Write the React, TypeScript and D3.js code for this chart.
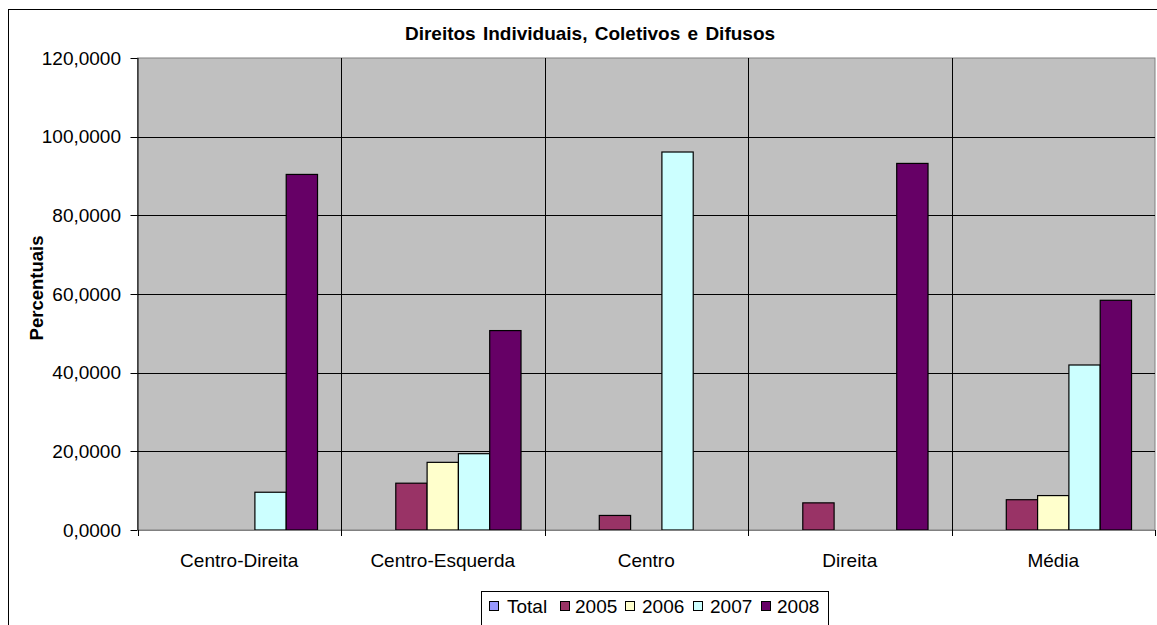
import React from "react";
import * as d3 from "d3";

const categories = ["Centro-Direita", "Centro-Esquerda", "Centro", "Direita", "Média"];
const seriesNames = ["Total", "2005", "2006", "2007", "2008"];
const seriesColors = ["#9999FF", "#993366", "#FFFFCC", "#CCFFFF", "#660066"];
const valuesTotal = [0, 0, 0, 0, 0];
const values2005 = [0, 11.9, 3.7, 6.9, 7.7];
const values2006 = [0, 17.2, 0, 0, 8.75];
const values2007 = [9.6, 19.4, 96.1, 0, 41.95];
const values2008 = [90.4, 50.7, 0, 93.2, 58.4];
const yTicks = [0, 20, 40, 60, 80, 100, 120];
const title = "Direitos Individuais, Coletivos e Difusos";
const yLabel = "Percentuais";

const seriesValues = [valuesTotal, values2005, values2006, values2007, values2008];

const W = 1157;
const H = 625;
const plot = { left: 137.5, top: 58, right: 1155, bottom: 530 };
const FONT = "'Liberation Sans', Arial, sans-serif";

export default function App() {
  const x0 = d3.scaleBand<string>().domain(categories).range([plot.left, plot.right]).padding(0);
  const bw = x0.bandwidth();
  const barW = bw / 6.5;
  const x1 = d3
    .scaleBand<string>()
    .domain(seriesNames)
    .range([0.75 * barW, 0.75 * barW + 5 * barW])
    .padding(0);
  const y = d3.scaleLinear().domain([0, 120]).range([plot.bottom, plot.top]);
  const fmt = (v: number) => v.toFixed(4).replace(".", ",");

  const legendItems = [
    { sq: 489, tx: 507 },
    { sq: 560, tx: 575 },
    { sq: 625, tx: 642 },
    { sq: 693, tx: 710 },
    { sq: 761, tx: 777 },
  ];

  return (
    <svg
      width={W}
      height={H}
      style={{ position: "absolute", left: 0, top: 0, background: "#fff" }}
      fontFamily={FONT}
    >
      <rect x={8.5} y={9.5} width={1300} height={800} fill="#fff" stroke="#000" strokeWidth={1} />
      <text x={590} y={40} textAnchor="middle" fontWeight="bold" fontSize={19} wordSpacing={2}>
        {title}
      </text>
      <rect
        x={plot.left}
        y={plot.top}
        width={plot.right - plot.left}
        height={plot.bottom - plot.top}
        fill="#C0C0C0"
        stroke="#808080"
        strokeWidth={1}
      />
      {yTicks.map((t) => (
        <g key={t}>
          {t > 0 && t < 120 && (
            <line x1={plot.left} x2={plot.right} y1={Math.round(y(t)) + 0.5} y2={Math.round(y(t)) + 0.5} stroke="#000" />
          )}
          <line x1={plot.left - 7} x2={plot.left} y1={Math.round(y(t)) + 0.5} y2={Math.round(y(t)) + 0.5} stroke="#000" />
          <text x={121} y={y(t)} dy="0.35em" textAnchor="end" fontSize={19}>
            {fmt(t)}
          </text>
        </g>
      ))}
      {categories.map((c, i) =>
        i > 0 ? (
          <line
            key={c}
            x1={Math.round(x0(c)!) + 0.5}
            x2={Math.round(x0(c)!) + 0.5}
            y1={plot.top}
            y2={plot.bottom}
            stroke="#000"
          />
        ) : null
      )}
      {categories.map((c, ci) =>
        seriesNames.map((s, si) => {
          const v = seriesValues[si][ci];
          if (v <= 0) return null;
          return (
            <rect
              key={c + s}
              x={x0(c)! + x1(s)!}
              y={y(v)}
              width={x1.bandwidth()}
              height={plot.bottom - y(v)}
              fill={seriesColors[si]}
              stroke="#000"
              strokeWidth={1.2}
            />
          );
        })
      )}
      <line x1={plot.left} x2={plot.right} y1={plot.bottom + 0.5} y2={plot.bottom + 0.5} stroke="#808080" strokeWidth={1.2} />
      <line x1={plot.left + 0.5} x2={plot.left + 0.5} y1={plot.top} y2={plot.bottom} stroke="#000" />
      {categories.concat(["end"]).map((c, i) => {
        const xx = i < categories.length ? x0(c)! : plot.right;
        return (
          <line
            key={"t" + i}
            x1={Math.round(xx) + 0.5}
            x2={Math.round(xx) + 0.5}
            y1={plot.bottom}
            y2={plot.bottom + 6}
            stroke="#000"
          />
        );
      })}
      {categories.map((c) => (
        <text key={"l" + c} x={x0(c)! + bw / 2} y={567} textAnchor="middle" fontSize={19}>
          {c}
        </text>
      ))}
      <text
        transform={`translate(43, 288) rotate(-90)`}
        textAnchor="middle"
        fontWeight="bold"
        fontSize={18.5}
      >
        {yLabel}
      </text>
      <rect x={481.5} y={591.5} width={347} height={60} fill="#fff" stroke="#000" />
      {seriesNames.map((s, i) => (
        <g key={"lg" + s}>
          <rect x={legendItems[i].sq + 0.5} y={601.5} width={9} height={9} fill={seriesColors[i]} stroke="#000" />
          <text x={legendItems[i].tx} y={612.5} fontSize={19}>
            {s}
          </text>
        </g>
      ))}
    </svg>
  );
}
